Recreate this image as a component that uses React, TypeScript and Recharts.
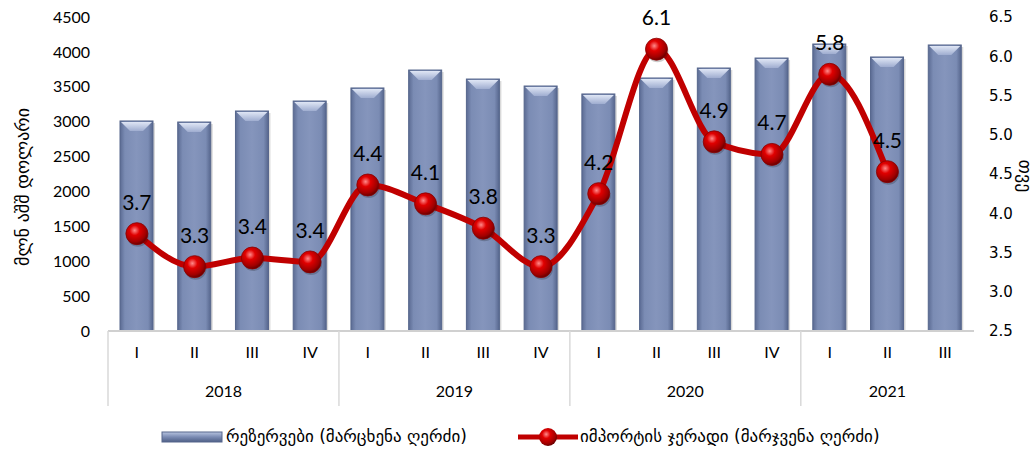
import React from 'react';
import { ComposedChart, Bar, Line, XAxis, YAxis, Legend, LabelList } from 'recharts';

const quarters = ['I', 'II', 'III', 'IV', 'I', 'II', 'III', 'IV', 'I', 'II', 'III', 'IV', 'I', 'II', 'III'];
const yearOf = ['2018', '2018', '2018', '2018', '2019', '2019', '2019', '2019', '2020', '2020', '2020', '2020', '2021', '2021', '2021'];
const yearLabelIndex = [1, 5, 9, 13];
const reserves = [3010, 2995, 3153, 3296, 3483, 3740, 3611, 3511, 3397, 3626, 3769, 3912, 4113, 3927, 4099];
const importMonths: (number | null)[] = [3.74, 3.32, 3.43, 3.38, 4.36, 4.12, 3.81, 3.32, 4.25, 6.09, 4.91, 4.75, 5.77, 4.53, null];
const importLabels = ['3.7', '3.3', '3.4', '3.4', '4.4', '4.1', '3.8', '3.3', '4.2', '6.1', '4.9', '4.7', '5.8', '4.5', ''];
const leftTicks = [0, 500, 1000, 1500, 2000, 2500, 3000, 3500, 4000, 4500];
const rightTicks = [2.5, 3.0, 3.5, 4.0, 4.5, 5.0, 5.5, 6.0, 6.5];

const barName = 'რეზერვები (მარცხენა ღერძი)';
const lineName = 'იმპორტის ჯერადი (მარჯვენა ღერძი)';
const leftAxisTitle = 'მლნ აშშ დოლარი';
const rightAxisTitle = 'თვე';

const data = quarters.map((q, i) => ({
  q,
  year: yearOf[i],
  reserves: reserves[i],
  imp: importMonths[i],
  label: importLabels[i],
}));

const W = 1035;
const H = 454;
const PLOT_LEFT = 108;
const PLOT_RIGHT = 974;
const BAND = (PLOT_RIGHT - PLOT_LEFT) / quarters.length;
const AXIS_Y = 331;

const FONT = "Lato, 'DejaVu Sans', sans-serif";
const GEO_FONT = "'DejaVu Sans', sans-serif";

const QuarterTick = (props: any) => {
  const { x, index, payload } = props;
  return (
    <g>
      {index % 4 === 0 && (
        <line x1={x - BAND / 2} x2={x - BAND / 2} y1={AXIS_Y} y2={AXIS_Y + 75} stroke="#d9d9d9" strokeWidth={1.5} />
      )}
      <text x={x} y={AXIS_Y + 27} textAnchor="middle" fontSize={16} fontFamily={FONT} fill="#000">
        {payload.value}
      </text>
    </g>
  );
};

const YearTick = (props: any) => {
  const { x, index } = props;
  if (!yearLabelIndex.includes(index)) return <g />;
  const cx = index === 13 ? x : x + BAND / 2;
  return (
    <text x={cx} y={AXIS_Y + 66} textAnchor="middle" fontSize={16} fontFamily={FONT} fill="#000">
      {yearOf[index]}
    </text>
  );
};

const BarShape = (props: any) => {
  const { x, y, width, height } = props;
  if (height <= 0) return <g />;
  const bev = Math.min(10, width / 3);
  return (
    <g>
      <rect x={x + 2} y={y + 2} width={width} height={height - 2} fill="#000" opacity={0.15} />
      <rect x={x} y={y} width={width} height={height} fill="url(#barGrad)" stroke="#56668c" strokeWidth={1} />
      <polygon
        points={`${x + 1},${y + 1} ${x + width - 1},${y + 1} ${x + width - bev},${y + bev} ${x + bev},${y + bev}`}
        fill="url(#bevelGrad)"
      />
    </g>
  );
};

const BallDot = (props: any) => {
  const { cx, cy, value } = props;
  if (value == null || cx == null || cy == null) return <g />;
  return (
    <g>
      <circle cx={cx + 1} cy={cy + 2} r={11} fill="#000" opacity={0.2} />
      <circle cx={cx} cy={cy} r={11} fill="url(#ballGrad)" stroke="#8a0000" strokeWidth={0.8} />
    </g>
  );
};

const renderLegend = () => (
  <div
    style={{
      position: 'relative',
      height: 46,
      fontFamily: GEO_FONT,
      fontSize: 17,
      color: '#000',
    }}
  >
    <svg width={62} height={14} style={{ position: 'absolute', left: 161, top: 22 }}>
      <defs>
        <linearGradient id="legBar" x1="0" y1="0" x2="0" y2="1">
          <stop offset="0" stopColor="#b8c4e0" />
          <stop offset="0.5" stopColor="#7a8bb3" />
          <stop offset="1" stopColor="#4f5f86" />
        </linearGradient>
      </defs>
      <rect x={1} y={2} width={60} height={10} fill="url(#legBar)" stroke="#56668c" />
    </svg>
    <span style={{ position: 'absolute', left: 226, top: 18, whiteSpace: 'nowrap' }}>{barName}</span>
    <svg width={62} height={24} style={{ position: 'absolute', left: 517, top: 17 }}>
      <line x1={1} x2={61} y1={12} y2={12} stroke="#c00000" strokeWidth={5} />
      <circle cx={31} cy={12} r={9} fill="url(#ballGrad)" />
    </svg>
    <span style={{ position: 'absolute', left: 580, top: 18, whiteSpace: 'nowrap' }}>{lineName}</span>
  </div>
);

const LeftTitle = () => (
  <text
    transform={`translate(22, 187) rotate(-90)`}
    textAnchor="middle"
    dominantBaseline="central"
    fontSize={18}
    fontFamily={GEO_FONT}
    fill="#000"
  >
    {leftAxisTitle}
  </text>
);

const RightTitle = () => (
  <text
    transform={`translate(1025, 176) rotate(90)`}
    textAnchor="middle"
    dominantBaseline="central"
    fontSize={18}
    fontFamily={GEO_FONT}
    fill="#000"
  >
    {rightAxisTitle}
  </text>
);

export default function App() {
  return (
    <div style={{ position: 'absolute', left: 0, top: 0, width: W, height: H, background: '#fff' }}>
      <ComposedChart
        width={W}
        height={H}
        data={data}
        margin={{ top: 17, right: 0, bottom: 0, left: 0 }}
        barCategoryGap={0}
      >
        <defs>
          <linearGradient id="barGrad" x1="0" y1="0" x2="1" y2="0">
            <stop offset="0" stopColor="#5b6b93" />
            <stop offset="0.15" stopColor="#7b8cb4" />
            <stop offset="0.5" stopColor="#8595bc" />
            <stop offset="0.85" stopColor="#7b8cb4" />
            <stop offset="1" stopColor="#56668d" />
          </linearGradient>
          <linearGradient id="bevelGrad" x1="0" y1="0" x2="0" y2="1">
            <stop offset="0" stopColor="#dfe6f5" />
            <stop offset="1" stopColor="#9fadd0" />
          </linearGradient>
          <radialGradient id="ballGrad" cx="0.4" cy="0.35" r="0.65">
            <stop offset="0" stopColor="#ff8a8a" />
            <stop offset="0.35" stopColor="#e00000" />
            <stop offset="0.8" stopColor="#a00000" />
            <stop offset="1" stopColor="#6a0000" />
          </radialGradient>
        </defs>
        <XAxis
          xAxisId="q"
          dataKey="q"
          interval={0}
          height={37}
          tick={<QuarterTick />}
          tickLine={false}
          axisLine={{ stroke: '#d0d0d0', strokeWidth: 2 }}
        />
        <XAxis
          xAxisId="y"
          dataKey="q"
          interval={0}
          height={40}
          tick={<YearTick />}
          tickLine={false}
          axisLine={false}
        />
        <YAxis
          yAxisId="left"
          orientation="left"
          width={108}
          domain={[0, 4500]}
          ticks={leftTicks}
          interval={0}
          tickSize={0}
          tickMargin={18}
          axisLine={false}
          tickLine={false}
          tick={{ fontSize: 16, fontFamily: FONT, fill: '#000' }}
          label={<LeftTitle />}
        />
        <YAxis
          yAxisId="right"
          orientation="right"
          width={61}
          domain={[2.5, 6.5]}
          ticks={rightTicks}
          interval={0}
          tickSize={0}
          tickMargin={15}
          axisLine={false}
          tickLine={false}
          tickFormatter={(v: number) => v.toFixed(1)}
          tick={{ fontSize: 15, fontFamily: "'DejaVu Sans', sans-serif", fill: '#000' }}
          label={<RightTitle />}
        />
        <Legend verticalAlign="bottom" align="left" height={46} content={renderLegend} />
        <Bar
          xAxisId="q"
          yAxisId="left"
          dataKey="reserves"
          name={barName}
          barSize={33}
          shape={<BarShape />}
          isAnimationActive={false}
        />
        <Line
          xAxisId="q"
          yAxisId="right"
          dataKey="imp"
          name={lineName}
          type="monotone"
          stroke="#c00000"
          strokeWidth={6}
          dot={<BallDot />}
          activeDot={false}
          connectNulls={false}
          isAnimationActive={false}
        >
          <LabelList dataKey="label" position="top" offset={24} fontSize={21} fontFamily={FONT} fill="#000" />
        </Line>
      </ComposedChart>
    </div>
  );
}
